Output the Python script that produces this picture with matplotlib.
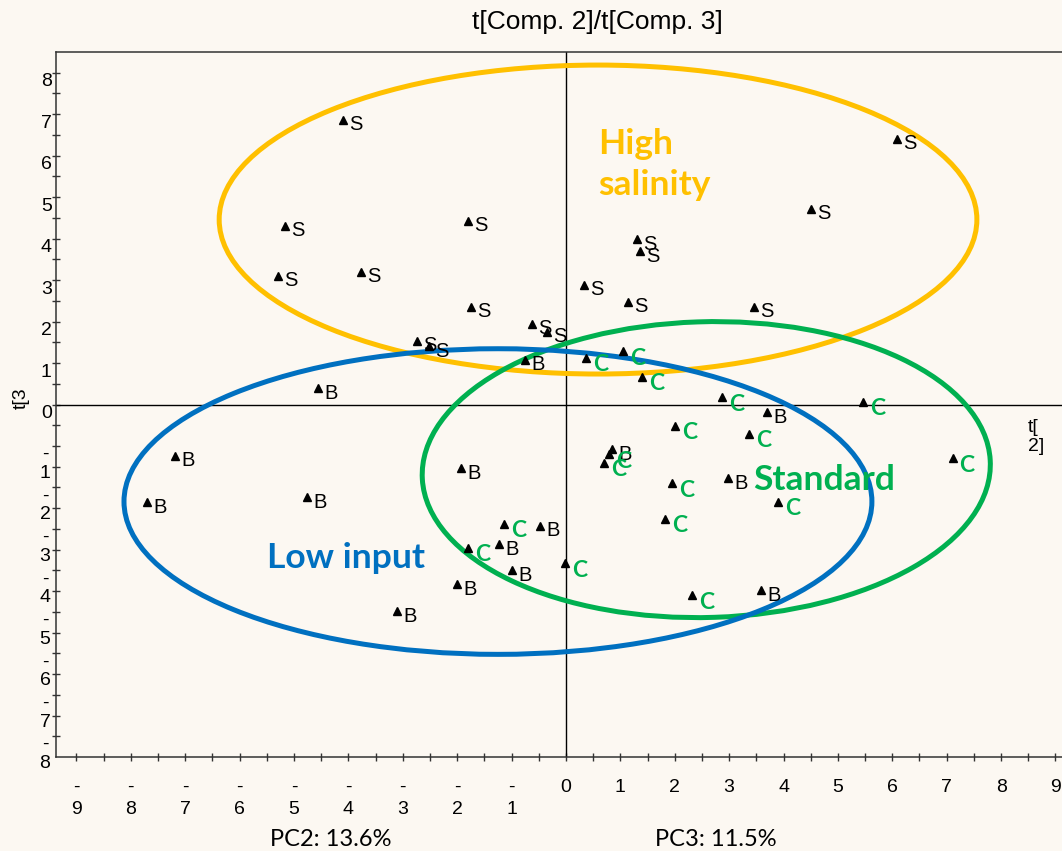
import numpy as np
import matplotlib.pyplot as plt
from matplotlib.patches import Ellipse

# scores (t[2], t[3])
s_x = [-4.10, 6.08, -5.17, -1.80, 4.50, 1.31, 1.36, -5.29, -3.77, 0.33,
       -1.75, 1.14, 3.46, -0.63, -0.35, -2.74, -2.52]
s_y = [6.87, 6.41, 4.31, 4.43, 4.72, 3.98, 3.69, 3.11, 3.20, 2.89,
       2.36, 2.48, 2.36, 1.95, 1.76, 1.54, 1.40]

b_x = [-0.75, -4.56, -7.19, -7.70, -4.76, -1.93, -0.48, -1.23, -0.99, -2.00,
       -3.11, 3.69, 0.85, 2.98, 3.58]
b_y = [1.08, 0.39, -1.23, -2.36, -2.24, -1.54, -2.92, -3.37, -4.00, -4.34,
       -4.99, -0.19, -1.08, -1.78, -4.48]

c_x = [0.37, 1.05, 1.40, 2.87, 5.46, 2.00, 3.36, 0.79, 0.70, 7.11,
       1.95, 3.90, 1.82, -1.14, -1.80, -0.02, 2.32]
c_y = [1.13, 1.28, 0.67, 0.17, 0.07, -0.51, -0.70, -1.20, -1.40, -1.30,
       -1.90, -2.34, -2.75, -2.87, -3.45, -3.83, -4.60]

# group ellipses
groups = ["High\nsalinity", "Standard", "Low input"]
ell_cx = [0.59, 2.58, -1.25]
ell_cy = [4.46, -1.57, -2.34]
ell_w = [13.93, 10.45, 13.75]
ell_h = [7.45, 7.13, 7.37]
ell_angle = [0, 2.5, 0]
ell_colors = ["#FFC000", "#00B050", "#0070C0"]
label_x = [0.59, 4.74, -4.04]
label_y = [5.78, -1.81, -3.69]

xticks = list(range(-9, 10))
yticks = list(range(-8, 9))

bg = "#FCF8F2"
plt.rcParams['font.family'] = ['Liberation Sans', 'DejaVu Sans']

fig = plt.figure(figsize=(10.62, 8.51), dpi=100, facecolor=bg)
ax = fig.add_axes([56/1062, 1 - 757/851, 1 - 56/1062, (757 - 52)/851])
ax.set_facecolor(bg)
ax.set_xlim(-9.375, 9.12)
ax.set_ylim(-8.5, 8.5)

for sp in ['left', 'bottom', 'top']:
    ax.spines[sp].set_color('#333333')
    ax.spines[sp].set_linewidth(1.1)
ax.spines['right'].set_visible(False)

# x ticks: negative labels have the minus on its own line
xlabels = [('-\n%d' % abs(v)) if v < 0 else str(v) for v in xticks]
ax.set_xticks(xticks, xlabels)
ax.set_xticks(np.arange(-9, 9.01, 0.5), minor=True)
ax.set_yticks(np.arange(-8, 8.01, 0.5))
ax.tick_params(axis='x', which='both', direction='inout', length=6, width=1,
               labelsize=14, pad=13, color='#333333')
ax.tick_params(axis='y', which='both', direction='inout', length=6, width=1,
               labelleft=False, color='#333333')
for lbl in ax.get_xticklabels():
    lbl.set_linespacing(1.35)

for v in yticks:
    if v < 0:
        ax.annotate('-\n%d' % abs(v), xy=(0, v), xycoords=ax.get_yaxis_transform(),
                    xytext=(-4, 0), textcoords='offset points', ha='right', va='top',
                    fontsize=14, multialignment='center', linespacing=1.15)
    else:
        ax.annotate(str(v), xy=(0, v), xycoords=ax.get_yaxis_transform(),
                    xytext=(-3, -6.5), textcoords='offset points', ha='right', va='center',
                    fontsize=14)

ax.axhline(0, color='black', linewidth=1)
ax.axvline(0, color='black', linewidth=1)

for i in range(len(groups)):
    ax.add_patch(Ellipse((ell_cx[i], ell_cy[i]), ell_w[i], ell_h[i], angle=ell_angle[i],
                         fill=False, edgecolor=ell_colors[i], linewidth=3.6, zorder=3))

ax.plot(s_x, s_y, '^', color='black', markersize=6, zorder=4)
ax.plot(b_x, b_y, '^', color='black', markersize=6, zorder=4)
ax.plot(c_x, c_y, '^', color='black', markersize=6, zorder=4)

for x, y in zip(s_x, s_y):
    ax.annotate('S', (x, y), xytext=(4.5, -3.5), textcoords='offset points',
                ha='left', va='center', fontsize=14.5, zorder=5)
for x, y in zip(b_x, b_y):
    ax.annotate('B', (x, y), xytext=(4.5, -3.5), textcoords='offset points',
                ha='left', va='center', fontsize=14.5, zorder=5)
for x, y in zip(c_x, c_y):
    ax.annotate('C', (x, y), xytext=(5, -5), textcoords='offset points',
                ha='left', va='center', fontsize=16.5, fontweight='bold',
                color='#00B050', family=['Lato', 'DejaVu Sans'], zorder=5)

for i, g in enumerate(groups):
    ha = 'left' if i == 0 else 'center'
    ax.text(label_x[i], label_y[i], g, ha=ha, va='center', fontsize=25.5,
            fontweight='bold', color=ell_colors[i], family=['Lato', 'DejaVu Sans'],
            linespacing=1.35, zorder=5)

fig.text(597/1062, 1 - 22/851, 't[Comp. 2]/t[Comp. 3]', ha='center', va='center', fontsize=19)
fig.text(21/1062, 1 - 398/851, 't[3', ha='center', va='center', rotation=90, fontsize=14)
fig.text(1028/1062, 1 - 437/851, 't[\n2]', ha='left', va='center', fontsize=14)
fig.text(331/1062, 1 - 840/851, 'PC2: 13.6%', ha='center', va='center', fontsize=17,
         family=['Lato', 'DejaVu Sans'])
fig.text(716/1062, 1 - 840/851, 'PC3: 11.5%', ha='center', va='center', fontsize=17,
         family=['Lato', 'DejaVu Sans'])

fig.savefig('out.png', dpi=100, facecolor=bg)
